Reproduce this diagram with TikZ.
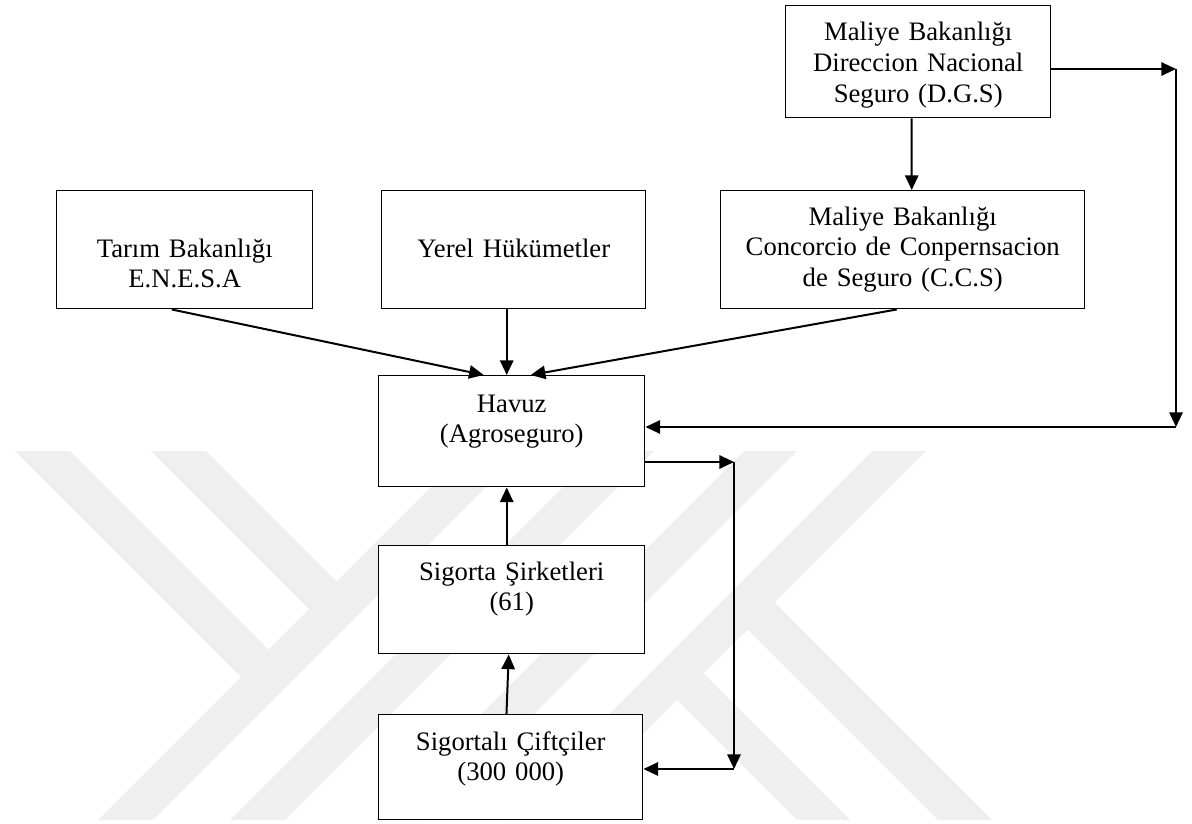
\documentclass[tikz,border=0pt]{standalone}
\usepackage{fontspec}
\setmainfont{Liberation Serif}
\usetikzlibrary{arrows.meta}
\definecolor{wmgray}{RGB}{239,239,239}
\tikzset{
  box/.style={draw, fill=white, line width=1.1pt, inner sep=0pt, anchor=north west},
  txt/.style={align=center, text width=260pt, inner sep=0pt, anchor=base, font=\fontsize{20}{23.2}\selectfont},
  arr/.style={line width=1.5pt, -{Triangle[length=11pt,width=10pt]}},
}

\begin{document}
\begin{tikzpicture}[x=0.75pt,y=0.75pt,yscale=-1,xscale=1]
\useasboundingbox (0,0) rectangle (1192,824);

%Watermark: Y
\fill[wmgray] (15,451) -- (70,451) -- (268.5,649.5) -- (241,677) -- cycle ;
\fill[wmgray] (151,451) -- (206,451) -- (336.5,581.5) -- (309,609) -- cycle ;
\fill[wmgray] (467,451) -- (522,451) -- (153,820) -- (98,820) -- cycle ;
\fill[wmgray] (599,451) -- (654,451) -- (285,820) -- (230,820) -- cycle ;
%Watermark: K
\fill[wmgray] (744,451) -- (797,451) -- (428,820) -- (375,820) -- cycle ;
\fill[wmgray] (872,451) -- (926,451) -- (557,820) -- (503,820) -- cycle ;
\fill[wmgray] (675,698) -- (701.5,671.5) -- (850,820) -- (797,820) -- cycle ;
\fill[wmgray] (745.5,627.5) -- (772.5,600.5) -- (992,820) -- (938,820) -- cycle ;

%Boxes
\node[box, minimum width=198.75pt, minimum height=84pt] (dgs) at (785,5) {};
\node[box, minimum width=273pt, minimum height=88.5pt] (ccs) at (720,190) {};
\node[box, minimum width=192pt, minimum height=88.5pt] (tarim) at (56,190) {};
\node[box, minimum width=198pt, minimum height=88.5pt] (yerel) at (381,190) {};
\node[box, minimum width=199.5pt, minimum height=83.25pt] (havuz) at (378,375) {};
\node[box, minimum width=199.5pt, minimum height=81pt] (sirket) at (378,545) {};
\node[box, minimum width=198pt, minimum height=78.75pt] (ciftci) at (378,714) {};

% Text Node
\node[txt] (dgst) at ([yshift=27pt]dgs.north) {Maliye Bakanlığı\\Direccion Nacional\\Seguro (D.G.S)};
% Text Node
\node[txt] (ccst) at ([yshift=26.25pt]ccs.north) {Maliye Bakanlığı\\Concorcio de Conpernsacion\\de Seguro (C.C.S)};
% Text Node
\node[txt] (tarimt) at ([yshift=50.25pt]tarim.north) {Tarım Bakanlığı\\E.N.E.S.A};
% Text Node
\node[txt] (yerelt) at ([yshift=50.25pt]yerel.north) {Yerel Hükümetler};
% Text Node
\node[txt] (havuzt) at ([yshift=27.75pt]havuz.north) {Havuz\\(Agroseguro)};
% Text Node
\node[txt] (sirkett) at ([yshift=26.25pt]sirket.north) {Sigorta Şirketleri\\(61)};
% Text Node
\node[txt] (ciftcit) at ([yshift=27pt]ciftci.north) {Sigortalı Çiftçiler\\(300 000)};

%Corners of the loops
\coordinate (r1) at (1176,69);
\coordinate (r2) at (1176,427);
\coordinate (q1) at (734,462);
\coordinate (q2) at (734,769);

%Arrows
\draw[arr] ([xshift=-4.9pt]dgs.south) -- ([xshift=6.75pt]ccs.north);
\draw[arr] ([xshift=-9.75pt]tarim.south) -- ([xshift=-21pt]havuz.north);
\draw[arr] ([xshift=-5.25pt]yerel.south) -- ([xshift=-3.75pt]havuz.north);
\draw[arr] ([xshift=-4.5pt]ccs.south) -- ([xshift=14.25pt]havuz.north);
\draw[arr] ([xshift=-3.75pt]sirket.north) -- ([xshift=-3.75pt]havuz.south);
\draw[arr] ([xshift=-3.2pt]ciftci.north) -- ([xshift=-2.25pt]sirket.south);
\draw[arr] (dgs.east |- r1) -- (r1);
\draw[arr] (r1) -- (r2);
\draw[arr] (r2) -- (havuz.east |- r2);
\draw[arr] (havuz.east |- q1) -- (q1);
\draw[arr] (q1) -- (q2);
\draw[arr] (q2) -- (ciftci.east |- q2);

\end{tikzpicture}
\end{document}
